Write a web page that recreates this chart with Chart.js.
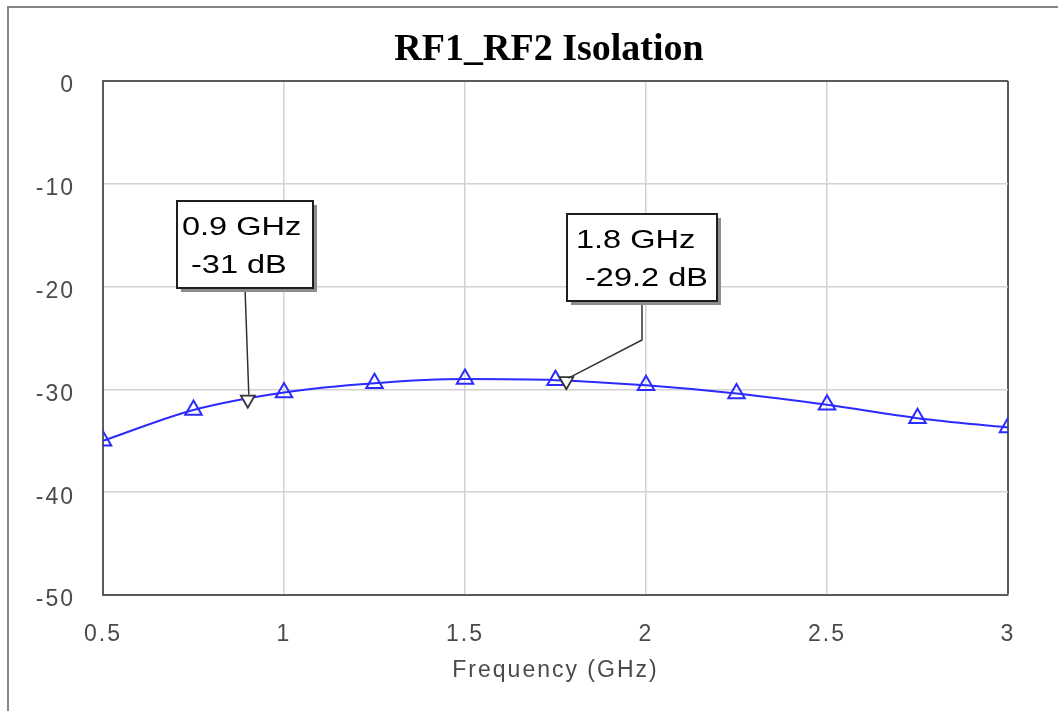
<!DOCTYPE html>
<html>
<head>
<meta charset="utf-8">
<title>RF1_RF2 Isolation</title>
<script src="https://cdn.jsdelivr.net/npm/chart.js@4.4.1/dist/chart.umd.min.js"></script>
<style>
  html, body {
    margin: 0;
    padding: 0;
    background: #ffffff;
    overflow: hidden;
  }
  #wrap {
    position: relative;
    width: 1058px;
    height: 711px;
  }
  #frame {
    position: absolute;
    left: 7px;
    top: 6px;
    right: -10px;
    bottom: -10px;
    border-top: 2px solid #858585;
    border-left: 2px solid #858585;
    pointer-events: none;
  }
  canvas {
    position: absolute;
    left: 0;
    top: 0;
  }
</style>
</head>
<body>
<div id="wrap">
  <canvas id="isolationChart" width="1058" height="711"></canvas>
  <div id="frame"></div>
</div>

<script>
// values
const freqGHz = [0.5, 0.75, 1.0, 1.25, 1.5, 1.75, 2.0, 2.25, 2.5, 2.75, 3.0];
const isolationDb = [-35.0, -32.0, -30.3, -29.4, -29.0, -29.1, -29.6, -30.4, -31.5, -32.8, -33.7];

// marker readouts
const markerFreq = [0.9, 1.78];
const markerDb = [-31, -29.2];
const markerText = [
  ["0.9 GHz", " -31 dB"],
  ["1.8 GHz", " -29.2 dB"]
];

const xTicks = [0.5, 1, 1.5, 2, 2.5, 3];
const yTicks = [-50, -40, -30, -20, -10, 0];

const chartTitle = "RF1_RF2 Isolation";
const xAxisTitle = "Frequency (GHz)";

// callout box placement relative to its marker (pixels)
const calloutStyle = [
  { dx: -71, dy: -199, w: 136, h: 87, padX: 5, knee: 0, endDx: 1, endDy: -5 },
  { dx: 1, dy: -167, w: 150, h: 87, padX: 9, knee: 39, endDx: 2, endDy: -3 }
];

const lineColor = "#2b2bff";
const gridColor = "#d2d2d2";
const frameColor = "#5a5a5a";
const tickColor = "#4a4a4a";
const axisFont = { family: '"Liberation Sans", Arial, sans-serif', size: 23 };

const calloutPlugin = {
  id: "callouts",
  beforeDraw(chart) {
    // wide spaced axis text like the original screenshot
    chart.ctx.letterSpacing = "2px";
  },
  afterDatasetsDraw(chart) {
    const ctx = chart.ctx;
    const xs = chart.scales.x;
    const ys = chart.scales.y;

    markerFreq.forEach(function (f, i) {
      const st = calloutStyle[i];
      const px = xs.getPixelForValue(f);
      const py = ys.getPixelForValue(markerDb[i]);
      const left = Math.round(px + st.dx);
      const top = Math.round(py + st.dy);
      const cx = left + st.w / 2;
      const bottom = top + st.h;

      ctx.save();
      ctx.letterSpacing = "0px";

      // leader line
      ctx.strokeStyle = "#333333";
      ctx.lineWidth = 1.5;
      ctx.beginPath();
      ctx.moveTo(cx, bottom);
      if (st.knee) {
        ctx.lineTo(cx, bottom + st.knee);
      }
      ctx.lineTo(px + st.endDx, py + st.endDy);
      ctx.stroke();

      // shadow + box
      ctx.fillStyle = "#8c8c8c";
      ctx.fillRect(left + 4, top + 4, st.w, st.h);
      ctx.fillStyle = "#ffffff";
      ctx.fillRect(left, top, st.w, st.h);
      ctx.strokeStyle = "#1e1e1e";
      ctx.lineWidth = 2;
      ctx.strokeRect(left, top, st.w, st.h);

      // text
      ctx.fillStyle = "#000000";
      ctx.font = '25px "Liberation Sans", Arial, sans-serif';
      ctx.textAlign = "left";
      ctx.textBaseline = "alphabetic";
      const lines = markerText[i];
      const baselines = [34, 72];
      lines.forEach(function (txt, k) {
        ctx.save();
        ctx.translate(left + st.padX, top + baselines[k]);
        ctx.scale(1.3, 1);
        ctx.fillText(txt, 0, 0);
        ctx.restore();
      });

      ctx.restore();
    });
  },
  afterDraw(chart) {
    const ctx = chart.ctx;
    ctx.save();
    ctx.letterSpacing = "0px";
    ctx.fillStyle = "#000000";
    ctx.font = 'bold 38px "Liberation Serif", "Times New Roman", serif';
    ctx.textAlign = "center";
    ctx.textBaseline = "alphabetic";
    ctx.fillText(chartTitle, 549, 60);
    ctx.restore();
  }
};

function edgeColor(ctx) {
  return ctx.index === ctx.scale.ticks.length - 1 ? frameColor : gridColor;
}

function edgeWidth(ctx) {
  return ctx.index === ctx.scale.ticks.length - 1 ? 2 : 1.5;
}

function buildChart() {
  const canvas = document.getElementById("isolationChart");
  if (!canvas || typeof Chart === "undefined") return;

  const linePoints = freqGHz.map((f, i) => ({ x: f, y: isolationDb[i] }));
  const markerPoints = markerFreq.map((f, i) => ({ x: f, y: markerDb[i] }));

  new Chart(canvas, {
    type: "line",
    data: {
      datasets: [
        {
          label: "Isolation",
          data: linePoints,
          borderColor: lineColor,
          borderWidth: 2,
          cubicInterpolationMode: "monotone",
          pointStyle: "triangle",
          pointRadius: 9.5,
          pointBorderColor: lineColor,
          pointBackgroundColor: "rgba(255,255,255,0)",
          pointBorderWidth: 2,
          clip: 0,
          order: 2
        },
        {
          label: "Markers",
          data: markerPoints,
          showLine: false,
          pointStyle: "triangle",
          rotation: 180,
          pointRadius: 8,
          pointBorderColor: "#333333",
          pointBackgroundColor: "#ffffff",
          pointBorderWidth: 1.8,
          order: 1
        }
      ]
    },
    options: {
      responsive: false,
      animation: false,
      layout: {
        padding: { top: 81, right: 50, bottom: 0, left: 0 }
      },
      plugins: {
        legend: { display: false },
        title: { display: false },
        tooltip: { enabled: false }
      },
      scales: {
        x: {
          type: "linear",
          min: 0.5,
          max: 3,
          afterBuildTicks: function (scale) {
            scale.ticks = xTicks.map((v) => ({ value: v }));
          },
          afterFit: function (scale) {
            scale.height = 116;
          },
          grid: {
            color: edgeColor,
            lineWidth: edgeWidth,
            drawTicks: false
          },
          border: {
            display: true,
            color: frameColor,
            width: 2
          },
          ticks: {
            padding: 26,
            color: tickColor,
            font: axisFont,
            callback: function (value) {
              return String(value);
            }
          },
          title: {
            display: true,
            text: xAxisTitle,
            color: tickColor,
            font: axisFont,
            padding: { top: 0, bottom: 27 }
          }
        },
        y: {
          type: "linear",
          min: -50,
          max: 0,
          afterBuildTicks: function (scale) {
            scale.ticks = yTicks.map((v) => ({ value: v }));
          },
          afterFit: function (scale) {
            scale.width = 103;
          },
          grid: {
            color: edgeColor,
            lineWidth: edgeWidth,
            drawTicks: false
          },
          border: {
            display: true,
            color: frameColor,
            width: 2
          },
          ticks: {
            padding: 28,
            labelOffset: 5,
            color: tickColor,
            font: axisFont,
            callback: function (value) {
              return String(value);
            }
          }
        }
      }
    },
    plugins: [calloutPlugin]
  });
}

document.addEventListener("DOMContentLoaded", buildChart);
</script>
</body>
</html>
